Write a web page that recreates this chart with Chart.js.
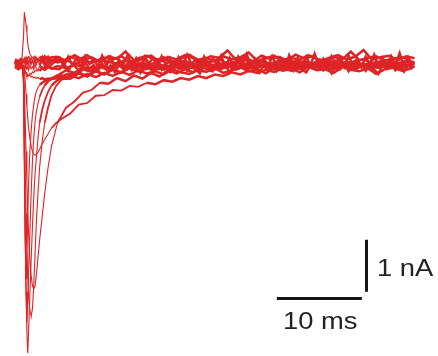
<!DOCTYPE html>
<html>
<head>
<meta charset="utf-8">
<script src="https://cdn.jsdelivr.net/npm/chart.js@4"></script>
<style>
  html, body { margin: 0; padding: 0; background: #fff; }
  #c { display: block; }
</style>
</head>
<body>
<canvas id="c" width="438" height="356"></canvas>
<script>
// time in ms, current in nA (0 = holding baseline)
const timeA = [0,0.4,0.8,1,1.1,1.2,1.3,1.4,1.5,1.6,1.75,1.9,2.05,2.2,2.35,2.5,2.7,2.9,3.2,3.5,3.9,4.3,
  5,6,7,8,9,10,11,12,13,14,15,16,17,18,19,20,21,22,23,24,25,26,27,28,29,30,31,32,33,34,35,36,37,38,39,40,41,42,43,44,45,46,47];
const timeB = [0,0.4,0.8,1,1.1,1.2,1.3,1.4,1.5,1.6,1.75,1.9,2.05,2.2,2.35,2.5,2.7,2.9,3.2,3.5,3.9,4.3,
  4.8,5.5,6.5,7.5,8.5,9.5,10.5,11.5,12.5,13.5,14.5,15.5,16.5,17.5,18.5,19.5,20.5,21.5,22.5,23.5,24.5,25.5,26.5,27.5,28.5,29.5,30.5,31.5,32.5,33.5,34.5,35.5,36.5,37.5,38.5,39.5,40.5,41.5,42.5,43.5,44.5,45.5,46.5];
const timeC = [0,0.4,0.8,1,1.1,1.2,1.3,1.4,1.5,1.6,1.75,1.9,2.05,2.2,2.35,2.5,2.7,2.9,3.2,3.5,3.9,4.3,
  5.25,5.75,6.25,6.75,7.25,7.75,8.25,8.75,9.25,9.75,10.25,10.75,
  11.25,11.75,12.25,12.75,13.25,13.75,14.25,14.75,15.25,15.75,16.25,16.75,
  17.25,17.75,18.25,18.75,19.25,19.75,20.25,20.75,21.25,21.75,22.25,22.75,
  23.25,23.75,24.25,24.75,25.25,25.75,26.25,26.75,27.25,27.75,28.25,28.75,
  29.25,29.75,30.25,30.75,31.25,31.75,32.25,32.75,33.25,33.75,34.25,34.75,
  35.25,35.75,36.25,36.75,37.25,37.75,38.25,38.75,39.25,39.75,40.25,40.75,
  41.25,41.75,42.25,42.75,43.25,43.75,44.25,44.75,45.25,45.75,46.25,46.75];

// traces sampled on timeA
const outward = [0.03,-0.02,0.04,0.5,0.98,0.86,0.72,0.58,0.38,0.27,0.18,0.13,0.1,0.12,0.07,0.11,0.06,0.12,0.08,0.13,0.07,0.11,
  0.12,0.04,0.15,0.06,0.11,0.02,0.13,0.08,0.22,0.05,0.1,0.14,0.03,0.12,0.07,0.15,0.09,0.04,0.13,0.1,0.24,0.06,0.11,0.03,0.14,0.08,0.12,0.05,0.16,0.09,0.13,0.04,0.1,0.15,0.07,0.12,0.25,0.06,0.11,0.14,0.05,0.13,0.09];
const peakA = [0.0,0.03,-0.02,-0.3,-1.6,-3.2,-4.4,-5.2,-5.58,-5.15,-4.45,-3.8,-3.15,-2.6,-2.15,-1.85,-1.45,-1.15,-0.9,-0.72,-0.55,-0.43,
  -0.33,-0.22,-0.21,-0.12,-0.17,-0.08,-0.13,-0.04,-0.1,-0.01,-0.09,-0.03,-0.11,0.02,-0.06,-0.01,-0.08,0.03,-0.05,-0.02,-0.09,0.01,-0.04,-0.07,0.02,-0.03,-0.08,0.0,-0.05,0.03,-0.06,-0.02,0.01,-0.07,-0.03,0.02,-0.05,-0.01,-0.08,0.01,-0.04,0.03,-0.02];
const peakC = [0.02,-0.03,0.01,-0.4,-2.0,-3.4,-4.4,-4.98,-4.6,-4.0,-3.25,-2.5,-1.9,-1.45,-1.15,-0.95,-0.78,-0.65,-0.52,-0.43,-0.35,-0.3,
  -0.24,-0.14,-0.19,-0.08,-0.13,-0.04,-0.11,-0.02,-0.08,-0.05,0.01,-0.07,-0.02,-0.1,0.0,-0.04,-0.08,0.02,-0.03,-0.06,0.01,-0.09,-0.02,0.02,-0.05,-0.01,-0.07,0.03,-0.04,-0.02,-0.08,0.01,-0.03,-0.06,0.02,-0.01,-0.07,-0.03,0.02,-0.05,0.0,-0.06,-0.02];
const peakE = [-0.02,0.02,-0.01,-0.1,-0.5,-1.1,-1.7,-2.3,-2.85,-3.3,-3.8,-4.1,-4.28,-4.35,-4.3,-4.1,-3.75,-3.4,-2.95,-2.5,-2.0,-1.6,
  -1.15,-0.86,-0.74,-0.57,-0.52,-0.38,-0.4,-0.29,-0.35,-0.24,-0.3,-0.19,-0.26,-0.14,-0.2,-0.12,-0.18,-0.08,-0.15,-0.1,-0.05,-0.13,-0.07,-0.11,-0.03,-0.09,-0.06,-0.12,-0.02,-0.08,-0.05,-0.1,-0.01,-0.07,-0.04,-0.11,-0.03,-0.06,-0.09,-0.02,-0.07,-0.04,-0.08];
const small1 = [-0.05,-0.01,-0.07,-0.06,-0.1,-0.16,-0.22,-0.27,-0.25,-0.24,-0.2,-0.22,-0.17,-0.19,-0.14,-0.16,-0.12,-0.15,-0.1,-0.13,-0.08,-0.11,
  -0.06,-0.1,-0.03,-0.08,-0.12,-0.04,-0.09,-0.01,-0.07,-0.11,-0.03,-0.08,-0.05,-0.12,-0.02,-0.07,-0.1,-0.04,-0.09,0.0,-0.06,-0.11,-0.03,-0.08,-0.05,-0.13,-0.02,-0.07,-0.1,-0.04,-0.08,-0.01,-0.06,-0.12,-0.03,-0.09,-0.05,-0.1,-0.02,-0.07,-0.11,-0.04,-0.08];
const flat1 = [0.04,0.0,0.05,0.02,0.03,-0.01,0.04,0.0,0.05,0.01,0.03,-0.02,0.04,0.01,0.05,0.0,0.03,0.06,0.01,0.04,0.0,0.05,
  0.01,0.06,-0.02,0.04,0.0,0.07,0.02,-0.01,0.05,0.01,0.08,-0.02,0.03,0.06,0.0,0.04,-0.03,0.05,0.02,0.07,-0.01,0.03,0.06,0.0,0.05,-0.02,0.04,0.08,0.01,0.03,-0.01,0.06,0.02,0.05,-0.03,0.04,0.07,0.0,0.03,0.06,-0.01,0.04,0.02];

// traces sampled on timeB
const peakB = [0.01,-0.02,0.02,-0.2,-1.0,-2.0,-2.9,-3.6,-4.1,-4.5,-4.75,-4.88,-4.72,-4.3,-3.7,-3.1,-2.5,-2.0,-1.5,-1.15,-0.85,-0.62,
  -0.45,-0.31,-0.3,-0.2,-0.26,-0.15,-0.22,-0.12,-0.18,-0.1,-0.16,-0.06,-0.13,-0.09,-0.03,-0.11,-0.05,-0.08,-0.01,-0.07,-0.1,-0.02,-0.06,0.0,-0.08,-0.03,-0.05,0.01,-0.07,-0.02,-0.09,0.0,-0.04,-0.06,0.02,-0.03,-0.07,-0.01,-0.05,0.01,-0.04,-0.08,-0.02];
const peakD = [-0.01,0.02,-0.02,-0.3,-1.8,-3.3,-4.15,-3.6,-2.9,-2.3,-1.7,-1.3,-1.0,-0.8,-0.65,-0.55,-0.47,-0.42,-0.38,-0.35,-0.32,-0.3,
  -0.3,-0.24,-0.3,-0.19,-0.25,-0.16,-0.22,-0.13,-0.19,-0.08,-0.15,-0.11,-0.05,-0.13,-0.07,-0.1,-0.02,-0.09,-0.05,-0.11,0.0,-0.06,-0.08,-0.03,-0.1,-0.01,-0.05,-0.07,0.01,-0.04,-0.09,-0.02,-0.06,0.0,-0.05,-0.08,-0.01,-0.04,-0.07,0.01,-0.03,-0.06,-0.02];
const slowU = [0.02,-0.01,0.03,-0.05,-0.15,-0.35,-0.6,-0.85,-1.05,-1.25,-1.45,-1.6,-1.7,-1.75,-1.77,-1.76,-1.72,-1.66,-1.56,-1.47,-1.36,-1.25,
  -1.16,-1.07,-0.97,-0.8,-0.77,-0.63,-0.62,-0.52,-0.53,-0.44,-0.46,-0.38,-0.41,-0.33,-0.36,-0.29,-0.32,-0.25,-0.29,-0.22,-0.25,-0.18,-0.22,-0.15,-0.19,-0.13,-0.17,-0.1,-0.15,-0.11,-0.07,-0.13,-0.09,-0.12,-0.05,-0.1,-0.08,-0.04,-0.09,-0.06,-0.02,-0.08,-0.05];
const flat2 = [0.07,0.03,0.09,0.05,0.1,0.06,0.11,0.04,0.09,0.12,0.06,0.1,0.03,0.08,0.13,0.05,0.09,0.04,0.11,0.07,0.12,0.05,
  0.09,0.02,0.12,0.06,0.15,0.03,0.1,0.07,0.13,0.01,0.09,0.14,0.05,0.11,0.02,0.08,0.16,0.06,0.1,0.03,0.13,0.07,0.11,0.2,0.04,0.09,0.14,0.02,0.1,0.06,0.15,0.08,0.03,0.12,0.07,0.22,0.05,0.1,0.13,0.04,0.08,0.11,0.06];
const small2 = [-0.08,-0.12,-0.07,-0.1,-0.13,-0.16,-0.18,-0.21,-0.22,-0.25,-0.24,-0.27,-0.26,-0.29,-0.27,-0.3,-0.28,-0.31,-0.29,-0.32,-0.3,-0.31,
  -0.28,-0.31,-0.24,-0.29,-0.21,-0.27,-0.19,-0.25,-0.17,-0.23,-0.14,-0.2,-0.16,-0.22,-0.12,-0.18,-0.21,-0.13,-0.17,-0.1,-0.19,-0.14,-0.08,-0.16,-0.12,-0.2,-0.09,-0.15,-0.11,-0.18,-0.07,-0.14,-0.12,-0.19,-0.08,-0.13,-0.16,-0.1,-0.21,-0.12,-0.09,-0.15,-0.11];

// noisy near-zero traces sampled on timeC
const flat3 = [0.03,-0.02,0.04,0.01,0.06,-0.04,0.08,-0.03,0.07,-0.05,0.09,-0.02,0.06,-0.06,0.08,-0.03,0.07,-0.04,0.1,-0.05,0.06,-0.03,
  0.1,-0.06,0.12,-0.04,0.09,-0.08,0.13,-0.02,0.08,-0.07,0.14,-0.05,
  0.11,-0.08,0.06,-0.03,0.15,-0.06,0.09,-0.09,0.12,-0.01,0.1,-0.07,
  0.13,-0.04,0.08,-0.1,0.11,-0.05,0.16,-0.02,0.07,-0.08,0.12,-0.06,
  0.09,-0.03,0.14,-0.07,0.1,-0.09,0.12,-0.04,0.17,-0.06,0.08,-0.02,
  0.11,-0.08,0.13,-0.05,0.09,-0.1,0.15,-0.03,0.1,-0.07,0.12,-0.04,
  0.18,-0.06,0.08,-0.09,0.13,-0.02,0.11,-0.07,0.14,-0.05,0.09,-0.08,
  0.12,-0.03,0.16,-0.06,0.1,-0.09,0.13,-0.04,0.19,-0.07,0.11,-0.05];
const flat4 = [-0.05,-0.08,-0.04,-0.06,-0.1,-0.03,-0.12,-0.05,-0.09,-0.14,-0.04,-0.11,-0.07,-0.13,-0.02,-0.1,-0.15,-0.05,-0.09,-0.12,-0.03,-0.1,
  -0.12,0.0,-0.15,-0.02,-0.1,-0.17,0.01,-0.11,-0.04,-0.16,-0.01,-0.13,
  -0.05,-0.18,-0.03,-0.12,0.0,-0.14,-0.06,-0.19,-0.02,-0.1,-0.15,-0.01,
  -0.13,-0.04,-0.17,-0.03,-0.11,0.01,-0.15,-0.06,-0.12,-0.2,-0.02,-0.09,
  -0.16,-0.01,-0.12,-0.05,-0.18,-0.03,-0.1,0.02,-0.14,-0.07,-0.11,-0.19,
  -0.04,-0.13,-0.02,-0.16,-0.06,-0.11,0.01,-0.15,-0.03,-0.12,-0.18,-0.05,
  -0.1,-0.02,-0.14,-0.07,-0.2,-0.04,-0.12,0.0,-0.16,-0.06,-0.11,-0.03,
  -0.15,-0.05,-0.13,-0.21,-0.03,-0.1,-0.01,-0.14,-0.06,-0.17,-0.04,-0.12];

// scale bar: 10 ms / 1 nA
const barMs = 10;
const barNa = 1;
const barLabels = ["10 ms", "1 nA"];

const traces = [
  [timeA, outward], [timeA, peakA], [timeA, peakC], [timeA, peakE], [timeA, small1], [timeA, flat1],
  [timeB, peakB], [timeB, peakD], [timeB, slowU], [timeB, flat2], [timeB, small2],
  [timeC, flat3], [timeC, flat4]
];

const red = "rgb(222,36,38)";

// thin lines through the fast peaks, heavier where the traces sit in the noisy band
const segWidth = ctx => {
  const a = ctx.p0.parsed, b = ctx.p1.parsed;
  if (b.x <= 0.8) return 2.6;
  if (a.x >= 2.9 && a.y > -0.45 && b.y > -0.45) return 2.5;
  if (a.x >= 2.9 && a.y > -1.3 && b.y > -1.3) return 1.8;
  return 1.1;
};

const datasets = traces.map(([t, v]) => ({
  data: t.map((x, i) => ({ x: x, y: v[i] })),
  borderColor: red,
  borderWidth: 1.1,
  segment: { borderWidth: segWidth },
  pointRadius: 0,
  tension: 0,
  fill: false
}));

const scaleBar = {
  id: "scaleBar",
  afterDraw(chart) {
    const c = chart.ctx, xs = chart.scales.x, ys = chart.scales.y;
    const x0 = xs.getPixelForValue(30.8), x1 = xs.getPixelForValue(30.8 + barMs);
    const yh = ys.getPixelForValue(-4.53);
    const xv = xs.getPixelForValue(41.35);
    const yv0 = ys.getPixelForValue(-3.4), yv1 = ys.getPixelForValue(-3.4 - barNa);
    c.save();
    c.strokeStyle = "#151515";
    c.lineWidth = 3;
    c.beginPath();
    c.moveTo(x0, yh); c.lineTo(x1, yh);
    c.moveTo(xv, yv0); c.lineTo(xv, yv1);
    c.stroke();
    c.fillStyle = "#222";
    c.font = "24px 'Liberation Sans', Arial, sans-serif";
    c.textBaseline = "alphabetic";
    c.save();
    c.translate(283, 329); c.scale(1.14, 1);
    c.fillText(barLabels[0], 0, 0);
    c.restore();
    c.save();
    c.translate(377, 276); c.scale(1.14, 1);
    c.fillText(barLabels[1], 0, 0);
    c.restore();
    c.restore();
  }
};

new Chart(document.getElementById("c"), {
  type: "line",
  data: { datasets: datasets },
  options: {
    responsive: false,
    animation: false,
    devicePixelRatio: 1,
    layout: { padding: 0 },
    plugins: { legend: { display: false }, tooltip: { enabled: false } },
    scales: {
      x: { type: "linear", min: -1.765, max: 49.76, display: false },
      y: { type: "linear", min: -5.635, max: 1.2115, display: false }
    }
  },
  plugins: [scaleBar]
});
</script>
</body>
</html>
